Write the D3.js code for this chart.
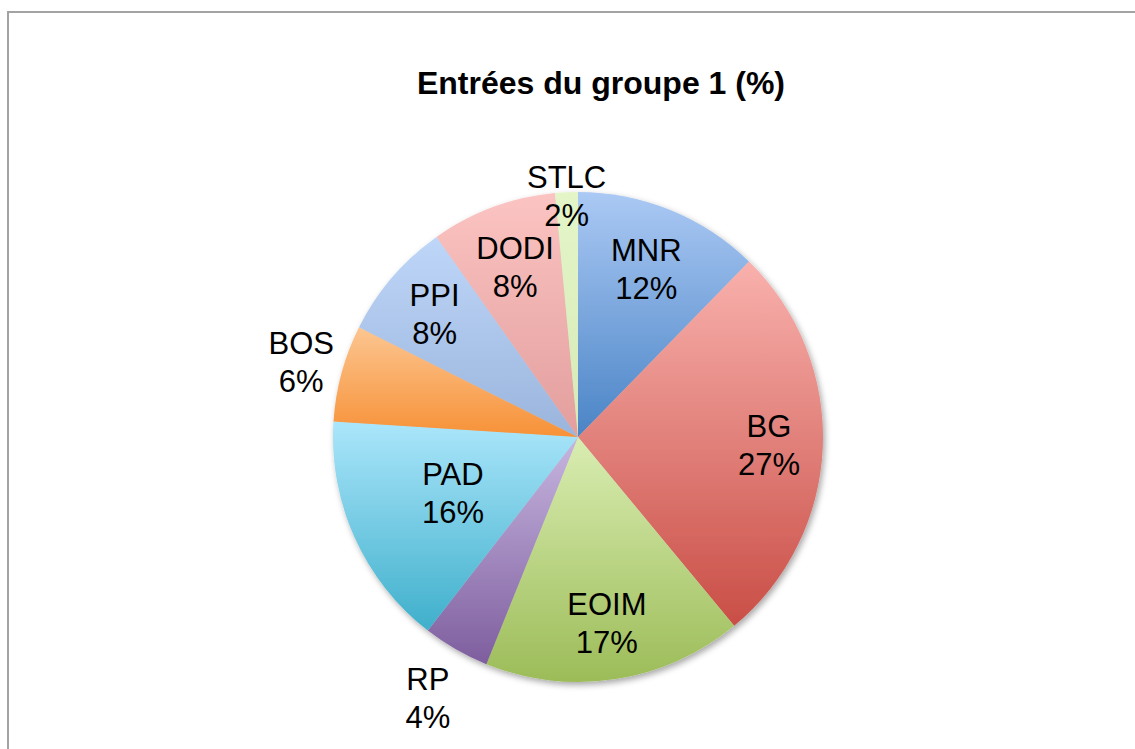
<!DOCTYPE html>
<html>
<head>
<meta charset="utf-8">
<script src="https://cdn.jsdelivr.net/npm/d3@7"></script>
<style>
  body { margin: 0; background: #fff; }
  svg { display: block; font-family: "Liberation Sans", Arial, sans-serif; }
</style>
</head>
<body>
<div id="container"></div>
<script>
// chart data
const categories = ["MNR", "BG", "EOIM", "RP", "PAD", "BOS", "PPI", "DODI", "STLC"];
const values = [12.3, 26.7, 17.1, 4.4, 15.5, 6.4, 7.8, 8.3, 1.5];
const pctLabels = ["12%", "27%", "17%", "4%", "16%", "6%", "8%", "8%", "2%"];
const title = "Entrées du groupe 1 (%)";

// gradient colours (top, bottom) per slice
const topColors = ["#abc9f4", "#f9b1ad", "#d9edb2", "#c7b6e0", "#abe6fb", "#fcc691", "#bed6f8", "#fbc4c2", "#e4f6c8"];
const bottomColors = ["#4a84c6", "#c94e46", "#9cbc58", "#7e5e9e", "#3fafcb", "#f79137", "#9ab4dc", "#e29e9d", "#d6e9b6"];

// label distance from centre, as fraction of radius
const labelR = [0.74, 0.78, 0.768, 1.23, 0.56, 1.17, 0.772, 0.739, 0.985];

const w = 1135;
const h = 749;
const cx = 578;
const cy = 437;
const radius = 245;

const svg = d3.select("#container")
  .append("svg")
  .attr("width", w)
  .attr("height", h);

const defs = svg.append("defs");

// soft shadow under the pie
const shadow = defs.append("filter")
  .attr("id", "shadow")
  .attr("x", "-10%").attr("y", "-10%")
  .attr("width", "130%").attr("height", "130%");
shadow.append("feDropShadow")
  .attr("dx", 2).attr("dy", 3)
  .attr("stdDeviation", 3)
  .attr("flood-color", "#000")
  .attr("flood-opacity", 0.35);

categories.forEach((c, i) => {
  const g = defs.append("linearGradient")
    .attr("id", "grad" + i)
    .attr("x1", 0).attr("y1", 0)
    .attr("x2", 0).attr("y2", 1);
  g.append("stop").attr("offset", "0%").attr("stop-color", topColors[i]);
  g.append("stop").attr("offset", "100%").attr("stop-color", bottomColors[i]);
});

// outer frame
svg.append("rect")
  .attr("x", 8)
  .attr("y", 12)
  .attr("width", 1140)
  .attr("height", 800)
  .attr("fill", "none")
  .attr("stroke", "#a3a3a3")
  .attr("stroke-width", 2);

svg.append("text")
  .attr("x", 601)
  .attr("y", 94)
  .attr("text-anchor", "middle")
  .attr("font-weight", "bold")
  .attr("font-size", 32)
  .attr("fill", "#000")
  .text(title);

const pie = d3.pie().sort(null).value(d => d);
const arcs = pie(values);

const arc = d3.arc().innerRadius(0).outerRadius(radius);

const pieG = svg.append("g")
  .attr("transform", `translate(${cx}, ${cy})`);

pieG.append("g")
  .attr("filter", "url(#shadow)")
  .selectAll("path")
  .data(arcs)
  .enter()
  .append("path")
  .attr("d", arc)
  .attr("fill", (d, i) => `url(#grad${i})`);

// labels: category on first line, percentage on second
const labels = pieG.selectAll("text.label")
  .data(arcs)
  .enter()
  .append("text")
  .attr("class", "label")
  .attr("text-anchor", "middle")
  .attr("font-size", 31)
  .attr("fill", "#000")
  .attr("transform", (d, i) => {
    const r = radius * labelR[i];
    const a = (d.startAngle + d.endAngle) / 2;
    return `translate(${r * Math.sin(a)}, ${-r * Math.cos(a)})`;
  });

labels.append("tspan")
  .attr("x", 0)
  .attr("y", -8)
  .text((d, i) => categories[i]);

labels.append("tspan")
  .attr("x", 0)
  .attr("y", 30)
  .text((d, i) => pctLabels[i]);
</script>
</body>
</html>
